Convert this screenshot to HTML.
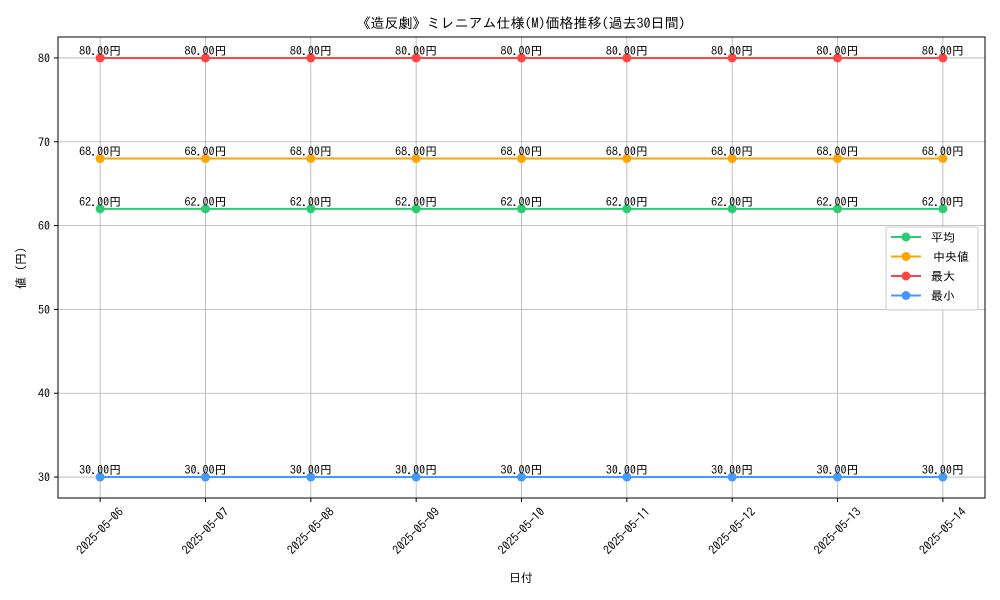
<!DOCTYPE html>
<html><head><meta charset="utf-8"><style>
body{margin:0;background:#fff}
svg{display:block;font-family:"IPAGothic","Noto Sans CJK JP",sans-serif}
</style></head><body>
<svg id="chart" width="1000" height="600" viewBox="0 0 1000 600" xmlns="http://www.w3.org/2000/svg">
<rect width="1000" height="600" fill="#fff"/>
<text x="521" y="28" font-size="14" text-anchor="middle">《造反劇》ミレニアム仕様(M)価格推移(過去30日間)</text>
<g id="grid"></g><g id="axes"></g><g id="series"></g>
<rect x="58" y="37" width="927" height="461" fill="none" stroke="#000" stroke-width="1"/>
<text x="521" y="582" font-size="12" text-anchor="middle">日付</text>
<text transform="translate(25,268) rotate(-90)" font-size="12" text-anchor="middle">値 (円)</text>
<g id="legend"></g>
</svg>
<script>
const dates=["2025-05-06","2025-05-07","2025-05-08","2025-05-09","2025-05-10","2025-05-11","2025-05-12","2025-05-13","2025-05-14"];
const avgVals=[62,62,62,62,62,62,62,62,62];
const medVals=[68,68,68,68,68,68,68,68,68];
const maxVals=[80,80,80,80,80,80,80,80,80];
const minVals=[30,30,30,30,30,30,30,30,30];
const yTicks=[30,40,50,60,70,80];
const seriesNames=["平均","中央値","最大","最小"];

const NS="http://www.w3.org/2000/svg";
const L=58,R=985,T=37,B=498;
const n=dates.length;
const xPad=(n-1)*0.05;
function xs(i){return L+(i+xPad)/(n-1+2*xPad)*(R-L);}
const all=[].concat(avgVals,medVals,maxVals,minVals);
let mn=Math.min(...all),mx=Math.max(...all);const yp=(mx-mn)*0.05||1;
const y0=mn-yp,y1=mx+yp;
function ys(v){return B-(v-y0)/(y1-y0)*(B-T);}
function mk(tag,at,parent){const e=document.createElementNS(NS,tag);for(const k in at)e.setAttribute(k,at[k]);parent.appendChild(e);return e;}
const grid=document.getElementById('grid'),axes=document.getElementById('axes'),ser=document.getElementById('series'),leg=document.getElementById('legend');
dates.forEach((d,i)=>{
 const x=xs(i);
 const g=mk('line',{x1:x,x2:x,y1:T,y2:B,stroke:'#b0b0b0','stroke-width':0.8},grid);
 
 const t=mk('line',{x1:x,x2:x,y1:B,y2:B+4,stroke:'#000'},axes);
 
 const tx=mk('text',{transform:`translate(${x},${B+33}) rotate(-45)`,'font-size':12,'text-anchor':'middle','dominant-baseline':'central'},axes);
 
 tx.textContent=d;
});
yTicks.forEach(v=>{
 const y=ys(v);
 const g=mk('line',{x1:L,x2:R,y1:y,y2:y,stroke:'#b0b0b0','stroke-width':0.8},grid);
 
 const t=mk('line',{x1:L-4,x2:L,y1:y,y2:y,stroke:'#000'},axes);
 
 const tx=mk('text',{x:L-8,y:y+4.5,'font-size':12,'text-anchor':'end'},axes);
 
 tx.textContent=v;
});
const seriesData=[avgVals,medVals,maxVals,minVals];
const colors=['#2ecc71','#ffa500','#ff4444','#4499ff'];
const keys=['avg','median','max','min'];
seriesData.forEach((vals,s)=>{
 const p=mk('polyline',{points:vals.map((v,i)=>xs(i)+','+ys(v)).join(' '),fill:'none',stroke:colors[s],'stroke-width':2},ser);
 
 vals.forEach((v,i)=>{
  const c=mk('circle',{cx:xs(i),cy:ys(v),r:4.5,fill:colors[s]},ser);
  
  const t=mk('text',{x:xs(i),y:ys(v)-3,'font-size':12,'text-anchor':'middle'},ser);
  
  t.textContent=v.toFixed(2)+'円';
 });
});
mk('rect',{x:886,y:227,width:92,height:83,rx:2,fill:'#fff','fill-opacity':0.8,stroke:'#ccc'},leg);
seriesNames.forEach((nm,s)=>{
 const y=237+s*19.5;
 const ln=mk('line',{x1:891,x2:921,y1:y,y2:y,stroke:colors[s],'stroke-width':2},leg);
 
 mk('circle',{cx:906,cy:y,r:4.5,fill:colors[s]},leg);
 const t=mk('text',{x:s==1?933:931,y:y+4.5,'font-size':12},leg);
 
 t.textContent=nm;
});
</script>
</body></html>
